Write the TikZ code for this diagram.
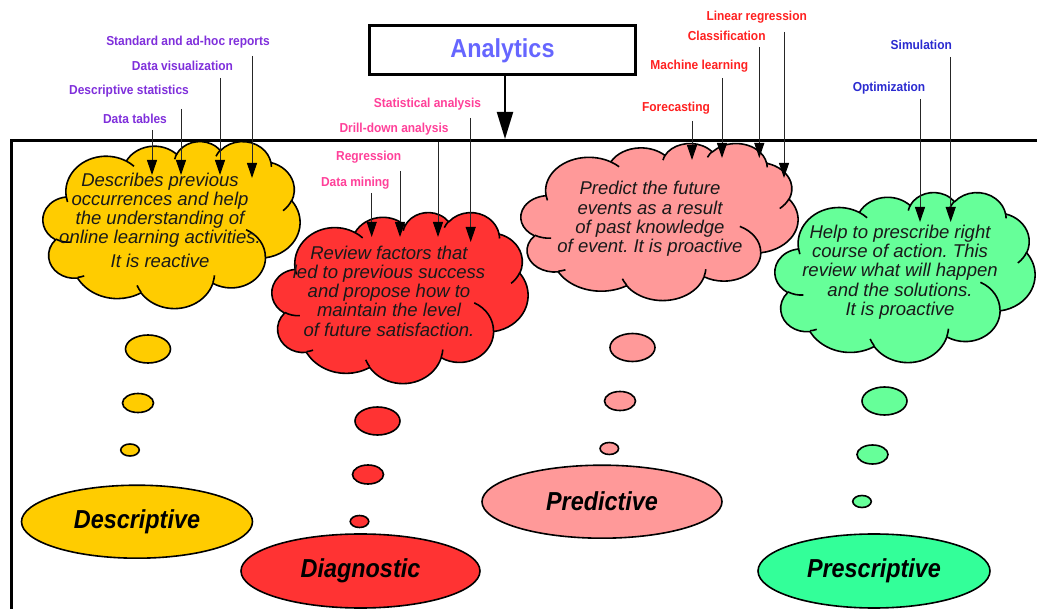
\documentclass[tikz,border=0pt]{standalone}
\usepackage{fontspec}
\setmainfont{Liberation Sans}
\newfontfamily\condfont{Liberation Sans}[FakeStretch=0.9]
\newfontfamily\labfont{Liberation Sans}[FakeStretch=0.92]
\usetikzlibrary{arrows.meta,shapes.geometric,calc}
\frenchspacing
\definecolor{cyellow}{HTML}{FFCC00}
\definecolor{cred}{HTML}{FF3333}
\definecolor{cpink}{HTML}{FF9999}
\definecolor{cgreen}{HTML}{66FF99}
\definecolor{cgreenb}{HTML}{33FF99}
\definecolor{labpurple}{HTML}{7F2FDB}
\definecolor{labpink}{HTML}{FF4099}
\definecolor{labred}{HTML}{FF2020}
\definecolor{labblue}{HTML}{2A2AD0}
\definecolor{anablue}{HTML}{6666FF}
\tikzset{
  cloudline/.style={draw=black,line width=1.6pt,line join=round},
  lab/.style={font=\labfont\bfseries\fontsize{13}{15}\selectfont,inner sep=0pt,anchor=base},
  labarrow/.style={draw=black!85,line width=1pt,-{Triangle[length=15pt,width=10pt,color=black]}},
  cloudtext/.style={font=\itshape\fontsize{18.5}{19.3}\selectfont,align=center,inner sep=0pt,text=black!90},
  bubble/.style={ellipse,draw=black,line width=1.6pt,inner sep=0pt},
  bigb/.style={bubble,minimum width=45pt,minimum height=28pt},
  midb/.style={bubble,minimum width=31pt,minimum height=19pt},
  smallb/.style={bubble,minimum width=18.5pt,minimum height=12pt},
  kind/.style={ellipse,draw=black,line width=1.6pt,inner sep=0pt,
    font=\condfont\bfseries\itshape\fontsize{26}{30}\selectfont},
  bigarrow/.style={draw=black,line width=2pt,-{Triangle[length=27pt,width=16pt]}},
  frameline/.style={draw=black,line width=3pt},
}
\newcommand\mycloud[5]{%
 \begin{scope}[shift={(#1,#2)},xscale={#3/432},yscale={#4/432}]
  \filldraw[cloudline,fill=#5] (39.00,143.70)
   arc[start angle=-187.74,end angle=-59.64,x radius=67.53,y radius=91.90]
   arc[start angle=-152.02,end angle=-45.45,x radius=53.33,y radius=72.67]
   arc[start angle=-153.48,end angle=-37.33,x radius=43.65,y radius=59.45]
   arc[start angle=-139.72,end angle=-10.22,x radius=48.57,y radius=65.95]
   arc[start angle=-74.77,end angle=23.22,x radius=53.33,y radius=72.73]
   arc[start angle=-37.54,end angle=81.87,x radius=67.75,y radius=92.20]
   arc[start angle=0.46,end angle=121.98,x radius=57.85,y radius=78.67]
   arc[start angle=16.85,end angle=146.22,x radius=67.52,y radius=92.15]
   arc[start angle=58.98,end angle=150.20,x radius=77.20,y radius=105.43]
   arc[start angle=83.30,end angle=223.12,x radius=43.60,y radius=59.18]
   arc[start angle=120.35,end angle=264.11,x radius=43.45,y radius=59.45]
   -- cycle;
  \draw[cloudline]
   (46.93,261.77) arc[start angle=85.54,end angle=120.35,x radius=43.45,y radius=59.45]
   (69.28,348.99) arc[start angle=68.24,end angle=83.30,x radius=43.60,y radius=59.18]
   (164.78,390.90) arc[start angle=146.22,end angle=158.47,x radius=67.52,y radius=92.15]
   (288.27,347.51) arc[start angle=4.74,end angle=16.85,x radius=67.52,y radius=92.15]
   (341.29,229.54) arc[start angle=-64.03,end angle=0.46,x radius=57.85,y radius=78.67]
   (417.98,153.54) arc[start angle=23.22,end angle=49.64,x radius=53.33,y radius=72.73]
   (383.24,54.26) arc[start angle=-10.22,end angle=0.82,x radius=48.57,y radius=65.95]
   (290.78,39.52) arc[start angle=-156.30,end angle=-139.72,x radius=48.57,y radius=65.95]
   (221.41,47.20) arc[start angle=-167.72,end angle=-152.35,x radius=43.65,y radius=59.45]
   (140.00,51.92) arc[start angle=-59.64,end angle=-45.74,x radius=67.53,y radius=91.90]
   (41.27,157.89) arc[start angle=163.19,end angle=172.25,x radius=67.53,y radius=91.90];
 \end{scope}}
\begin{document}
\begin{tikzpicture}[x=1pt,y=-1pt]
\useasboundingbox (0,0) rectangle (1037,609);
% clouds
\mycloud{43}{141}{257}{167}{cyellow}
\mycloud{272}{212}{256}{171}{cred}
\mycloud{521}{143}{277}{157}{cpink}
\mycloud{775}{192}{260}{170}{cgreen}
% cloud texts
\node[cloudtext] (tdesc) at (160,220) {Describes previous\\occurrences and help\\the understanding of\\online learning activities.\\[4pt]It is reactive};
\node[cloudtext] (tdiag) at (389,291) {Review factors that\\led to previous success\\and propose how to\\maintain the level\\of future satisfaction.};
\node[cloudtext] (tpred) at (650,219) {Predict the future\\events as a result\\of past knowledge\\of event. It is proactive};
\node[cloudtext] (tpres) at (900,272) {Help to prescribe right\\course of action. This\\review what will happen\\and the solutions.\\It is proactive};
% frame
\draw[frameline] (11,609) -- (11,141) -- (1037,141);
% analytics
\node[draw=black,line width=3pt,minimum width=266pt,minimum height=49pt,inner sep=0pt,
  text=anablue,font=\condfont\bfseries\fontsize{26}{30}\selectfont] (ana) at (502.5,50.5) {Analytics};
\coordinate (anatip) at (505,139);
\draw[bigarrow] (ana.south -| anatip) -- (anatip);
% bubbles
\node[bigb,fill=cyellow] (by1) at (148,349) {};
\node[midb,fill=cyellow] (by2) at (138,403) {};
\node[smallb,fill=cyellow] (by3) at (130,450) {};
\node[bigb,fill=cred] (br1) at (377.5,421) {};
\node[midb,fill=cred] (br2) at (368,474.5) {};
\node[smallb,fill=cred] (br3) at (359.5,521.5) {};
\node[bigb,fill=cpink] (bp1) at (632.5,347.5) {};
\node[midb,fill=cpink] (bp2) at (620,401) {};
\node[smallb,fill=cpink] (bp3) at (609.3,448.5) {};
\node[bigb,fill=cgreen] (bg1) at (884.5,401) {};
\node[midb,fill=cgreen] (bg2) at (872.5,454.5) {};
\node[smallb,fill=cgreen] (bg3) at (862,501.5) {};
% kinds
\node[kind,fill=cyellow,minimum width=231pt,minimum height=73pt] (kdesc) at (137,521.7) {Descriptive};
\node[kind,fill=cred,minimum width=239pt,minimum height=74pt] (kdiag) at (360.5,571) {Diagnostic};
\node[kind,fill=cpink,minimum width=240pt,minimum height=73pt] (kpred) at (602,501.7) {Predictive};
\node[kind,fill=cgreenb,minimum width=232pt,minimum height=74pt] (kpres) at (874,571) {Prescriptive};
% labels
\node[lab,text=labpurple] (lstd) at (188,45.6) {Standard and ad-hoc reports};
\node[lab,text=labpurple] (lviz) at (182.5,70.6) {Data visualization};
\node[lab,text=labpurple] (lstat) at (129,94.6) {Descriptive statistics};
\node[lab,text=labpurple] (ltab) at (135,123.6) {Data tables};
\node[lab,text=labpink] (lsa) at (427.5,107.3) {Statistical analysis};
\node[lab,text=labpink] (ldd) at (394,132.3) {Drill-down analysis};
\node[lab,text=labpink] (lreg) at (368.7,160.6) {Regression};
\node[lab,text=labpink] (ldm) at (355.3,186.3) {Data mining};
\node[lab,text=labred] (llr) at (756.7,20.3) {Linear regression};
\node[lab,text=labred] (lcl) at (726.7,40.6) {Classification};
\node[lab,text=labred] (lml) at (699.3,69.9) {Machine learning};
\node[lab,text=labred] (lfc) at (676,111.9) {Forecasting};
\node[lab,text=labblue] (lsim) at (921.3,49.6) {Simulation};
\node[lab,text=labblue] (lopt) at (889,91.3) {Optimization};
% arrow tips
\coordinate (ttab) at (152,175);
\coordinate (tstat) at (181,175);
\coordinate (tviz) at (220,175);
\coordinate (tstd) at (252,178);
\coordinate (tdm) at (371.7,237);
\coordinate (treg) at (400,237);
\coordinate (tdd) at (438,237);
\coordinate (tsa) at (470.7,242);
\coordinate (tfc) at (692,160);
\coordinate (tml) at (722,158);
\coordinate (tcl) at (759.3,158);
\coordinate (tlr) at (784,178);
\coordinate (topt) at (920,222);
\coordinate (tsim) at (950.7,222);
% arrows
\draw[labarrow] (ltab.base -| ttab) ++(0,6.4) -- (ttab);
\draw[labarrow] (lstat.base -| tstat) ++(0,14.4) -- (tstat);
\draw[labarrow] (lviz.base -| tviz) ++(0,7.4) -- (tviz);
\draw[labarrow] (lstd.base -| tstd) ++(0,10.4) -- (tstd);
\draw[labarrow] (ldm.base -| tdm) ++(0,6.7) -- (tdm);
\draw[labarrow] (lreg.base -| treg) ++(0,10.4) -- (treg);
\draw[labarrow] (ldd.base -| tdd) ++(0,9.4) -- (tdd);
\draw[labarrow] (lsa.base -| tsa) ++(0,10.7) -- (tsa);
\draw[labarrow] (lfc.base -| tfc) ++(0,9.1) -- (tfc);
\draw[labarrow] (lml.base -| tml) ++(0,8.1) -- (tml);
\draw[labarrow] (lcl.base -| tcl) ++(0,6.4) -- (tcl);
\draw[labarrow] (llr.base -| tlr) ++(0,11.7) -- (tlr);
\draw[labarrow] (lopt.base -| topt) ++(0,7.7) -- (topt);
\draw[labarrow] (lsim.base -| tsim) ++(0,7.4) -- (tsim);
\end{tikzpicture}
\end{document}
